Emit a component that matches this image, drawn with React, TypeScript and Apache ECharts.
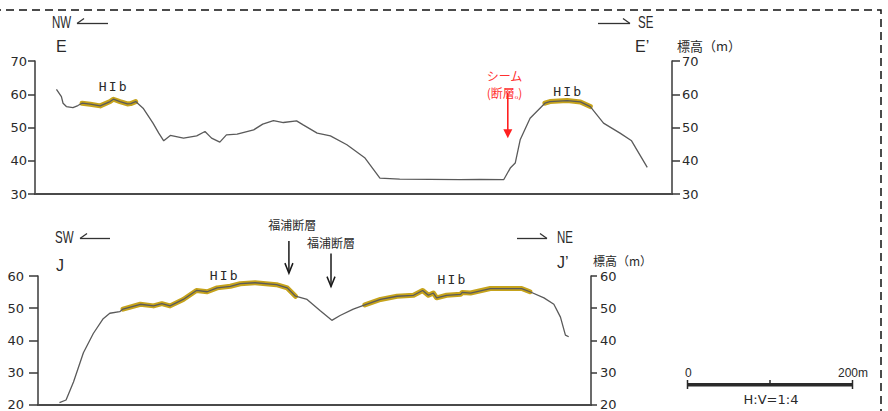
import React, { useEffect, useRef } from "react";
import * as echarts from "echarts";

// ---- Profile E–E' (horizontal distance in m, elevation in m) ----
const eDist = [26, 32, 34, 38, 46, 52, 57, 67, 79, 91, 95, 103, 112, 116, 122, 131, 143, 150, 156, 164, 180, 196, 206, 214, 224, 232, 245, 265, 276, 289, 301, 317, 325, 342, 358, 378, 400, 418, 442, 479, 515, 539, 568, 576, 582, 588, 600, 618, 624, 645, 661, 673, 689, 709, 723, 742];
const eElev = [61.5, 59.3, 57.3, 56.3, 56.0, 56.6, 57.3, 57.0, 56.5, 57.8, 58.5, 57.8, 57.1, 57.2, 57.8, 55.8, 51.3, 48.3, 46.0, 47.6, 46.8, 47.5, 48.8, 46.8, 45.6, 47.8, 48.0, 49.3, 51.0, 52.1, 51.5, 52.0, 50.8, 48.3, 47.5, 44.8, 40.8, 34.8, 34.5, 34.4, 34.3, 34.4, 34.3, 37.8, 39.3, 46.3, 52.8, 57.3, 57.8, 58.1, 57.7, 56.3, 51.3, 48.3, 46.0, 38.0];
const eTerraceRanges = [[57, 122], [618, 673]];
const eYTicks = [30, 40, 50, 60, 70];
const eXMax = 772;

// ---- Profile J–J' ----
const jDist = [26, 34, 43, 55, 67, 79, 87, 99, 103, 124, 140, 150, 160, 176, 192, 205, 217, 233, 245, 263, 289, 302, 312, 326, 342, 356, 366, 382, 396, 415, 435, 455, 466, 473, 479, 483, 495, 512, 514, 524, 548, 572, 586, 596, 613, 625, 633, 639, 643];
const jElev = [20.6, 21.4, 27.0, 36.1, 42.1, 46.7, 48.4, 48.9, 49.7, 51.2, 50.7, 51.4, 50.7, 52.7, 55.5, 55.1, 56.3, 56.8, 57.6, 57.9, 57.3, 56.3, 53.7, 52.7, 49.2, 46.2, 47.7, 49.7, 51.0, 52.7, 53.7, 54.0, 55.5, 54.0, 54.7, 53.2, 54.0, 54.3, 54.9, 54.7, 56.1, 56.1, 56.1, 55.1, 53.2, 51.2, 47.2, 41.6, 41.1];
const jTerraceRanges = [[103, 312], [396, 596]];
const jYTicks = [20, 30, 40, 50, 60];
const jXMax = 670;

// ---- Annotations (data coordinates) ----
const terraceLabel = ["H", "I", "b"];
const eTerraceLabels = [[94, 62.3], [645, 60.9]];
const jTerraceLabels = [[225, 60.3], [501, 58.8]];
const eSeam = { x: 573, top: 60.4, tip: 46.8, lines: ["シーム", "(断層ₒ)"], labelX: 569, labelY: [65.6, 60.4] };
const jFaults = [
  { x: 304, top: 70.9, tip: 60.9, label: "福浦断層", lx: 308, ly: 76.1 },
  { x: 355, top: 67.0, tip: 56.7, label: "福浦断層", lx: 355, ly: 70.3 },
];

const TERRACE = "#c6a31b";
const PROFILE = "#5a5a5a";
const AXIS = "#3a3a3a";
const TEXT = "#2a2a2a";

export default function App() {
  const ref = useRef<HTMLDivElement>(null);
  useEffect(() => {
    const el = ref.current!;
    const chart = echarts.init(el, null, { renderer: "svg" });
    const pairs = (d: number[], e: number[]) => d.map((x, i) => [x, e[i]]);
    const eData = pairs(eDist, eElev);
    const jData = pairs(jDist, jElev);

    const yAx = (gi: number, pos: string, ticks: number[], tickLen: number, margin: number) => ({
      gridIndex: gi,
      type: "value",
      position: pos,
      min: ticks[0],
      max: ticks[ticks.length - 1],
      interval: ticks[1] - ticks[0],
      axisLine: { show: true, lineStyle: { color: AXIS, width: 1.5 } },
      axisTick: { show: true, inside: false, length: tickLen, lineStyle: { color: AXIS, width: 1.5 } },
      axisLabel: { show: true, margin, color: TEXT, fontSize: 13, fontFamily: "DejaVu Sans" },
      splitLine: { show: false },
    });
    const xAx = (gi: number, max: number) => ({
      gridIndex: gi,
      type: "value",
      min: 0,
      max,
      axisLine: { show: true, onZero: false, lineStyle: { color: "#4a4a4a", width: 2 } },
      axisTick: { show: false },
      axisLabel: { show: false },
      splitLine: { show: false },
    });
    const terraceSeries = (data: number[][], ranges: number[][], gi: number) =>
      ranges.map(([a, b]) => ({
        type: "line",
        xAxisIndex: gi,
        yAxisIndex: gi * 2,
        data: data.filter((p) => p[0] >= a && p[0] <= b),
        symbol: "none",
        silent: true,
        z: 2,
        lineStyle: { color: TERRACE, width: 5, cap: "round", join: "round" },
      }));
    const profileSeries = (data: number[][], gi: number) => ({
      type: "line",
      xAxisIndex: gi,
      yAxisIndex: gi * 2,
      data,
      symbol: "none",
      silent: true,
      z: 3,
      lineStyle: { color: PROFILE, width: 1.3 },
    });

    chart.setOption({
      animation: false,
      grid: [
        { left: 35, top: 61, width: 637, height: 133 },
        { left: 38, top: 276, width: 553, height: 132 },
      ],
      xAxis: [xAx(0, eXMax), xAx(1, jXMax)],
      yAxis: [
        yAx(0, "left", eYTicks, 7, 8),
        yAx(0, "right", eYTicks, 8, 10),
        yAx(1, "left", jYTicks, 9, 14),
        yAx(1, "right", jYTicks, 6, 9),
      ],
      series: [
        profileSeries(eData, 0),
        profileSeries(jData, 1),
        ...terraceSeries(eData, eTerraceRanges, 0),
        ...terraceSeries(jData, jTerraceRanges, 1),
      ],
    });

    const px = (si: number, x: number, y: number) => chart.convertToPixel({ seriesIndex: si }, [x, y]) as number[];
    const g: any[] = [];
    const txt = (x: number, y: number, t: string, o: any = {}) =>
      g.push({
        type: "text",
        x,
        y,
        scaleX: o.scaleX ?? 1,
        z: 10,
        style: {
          text: t,
          fill: o.fill ?? TEXT,
          fontSize: o.fontSize ?? 14,
          fontFamily: o.fontFamily ?? "Liberation Sans",
          align: o.align ?? "left",
          verticalAlign: "middle",
          lineHeight: o.lineHeight ?? (o.fontSize ?? 14) + 1,
        },
      });
    const line = (x1: number, y1: number, x2: number, y2: number, stroke = "#333", lw = 1.3) =>
      g.push({ type: "line", z: 10, shape: { x1, y1, x2, y2 }, style: { stroke, lineWidth: lw } });

    // dashed frame
    g.push({ type: "rect", z: 1, shape: { x: -20, y: 10, width: 901, height: 500 }, style: { fill: "none", stroke: "#111", lineWidth: 1.5, lineDash: [8, 5] } });

    // direction captions + harpoon arrows
    const dirs: [number, number, string, number, number, boolean][] = [
      [52, 22.5, "NW", 77, 108, true],
      [638, 22.5, "SE", 598, 630, false],
      [55, 237.5, "SW", 80, 110, true],
      [557, 237.5, "NE", 517, 547, false],
    ];
    dirs.forEach(([tx, ty, t, a, b, left]) => {
      txt(tx, ty, t, { fontSize: 16, scaleX: 0.72 });
      line(a, ty + 1, b, ty + 1, "#333", 1.3);
      if (left) line(a, ty + 1, a + 7, ty - 4, "#333", 1.3);
      else line(b, ty + 1, b - 7, ty - 4, "#333", 1.3);
    });
    txt(56, 46, "E", { fontSize: 16 });
    txt(635, 46.5, "E’", { fontSize: 16 });
    txt(56, 265, "J", { fontSize: 16 });
    txt(557, 262, "J’", { fontSize: 16 });
    txt(677, 45, "標高（m）", { fontSize: 13, fontFamily: "Noto Sans CJK JP" });
    txt(593, 260, "標高（m）", { fontSize: 12, fontFamily: "Noto Sans CJK JP" });

    // terrace labels
    const hib = (si: number, pt: number[]) => {
      const [cx, cy] = px(si, pt[0], pt[1]);
      terraceLabel.forEach((c, i) => txt(cx + (i - 1) * 10, cy, c, { fontSize: 13, fontFamily: "DejaVu Sans Mono", align: "center" }));
    };
    eTerraceLabels.forEach((p) => hib(0, p));
    jTerraceLabels.forEach((p) => hib(1, p));

    // seam (red arrow)
    {
      const [ax, ay] = px(0, eSeam.x, eSeam.top);
      const [, by] = px(0, eSeam.x, eSeam.tip);
      eSeam.lines.forEach((t, i) => {
        const [lx, ly] = px(0, eSeam.labelX, eSeam.labelY[i]);
        txt(lx, ly, t, { fontSize: 12, fontFamily: "Noto Sans CJK JP", align: "center", fill: "#ff3030", lineHeight: 13 });
      });
      line(ax, ay, ax, by - 8, "#ff2020", 1.6);
      g.push({ type: "polygon", z: 10, shape: { points: [[ax - 4.5, by - 9], [ax + 4.5, by - 9], [ax, by]] }, style: { fill: "#ff2020" } });
    }
    // faults (black arrows)
    jFaults.forEach((f) => {
      const [ax, ay] = px(1, f.x, f.top);
      const [, by] = px(1, f.x, f.tip);
      const [lx, ly] = px(1, f.lx, f.ly);
      txt(lx, ly, f.label, { fontSize: 12, fontFamily: "Noto Sans CJK JP", align: "center" });
      line(ax, ay, ax, by, "#1a1a1a", 1.5);
      g.push({ type: "polyline", z: 10, shape: { points: [[ax - 4, by - 10], [ax, by], [ax + 4, by - 10]] }, style: { stroke: "#1a1a1a", lineWidth: 1.5, fill: null } });
    });

    // scale bar
    txt(685, 373, "0", { fontSize: 12 });
    txt(838, 373, "200m", { fontSize: 12 });
    g.push({ type: "rect", z: 10, shape: { x: 687, y: 383, width: 166, height: 3.5 }, style: { fill: "#2a2a2a" } });
    line(687.5, 380, 687.5, 389, "#2a2a2a", 1.5);
    line(852.5, 380, 852.5, 389, "#2a2a2a", 1.5);
    line(770, 380, 770, 384, "#2a2a2a", 1.5);
    txt(771, 399.5, "H:V=1:4", { fontSize: 13, fontFamily: "DejaVu Sans", align: "center" });

    chart.setOption({ graphic: g });
    return () => chart.dispose();
  }, []);
  return <div ref={ref} style={{ position: "fixed", left: 0, top: 0, width: 888, height: 411, background: "#fff" }} />;
}
